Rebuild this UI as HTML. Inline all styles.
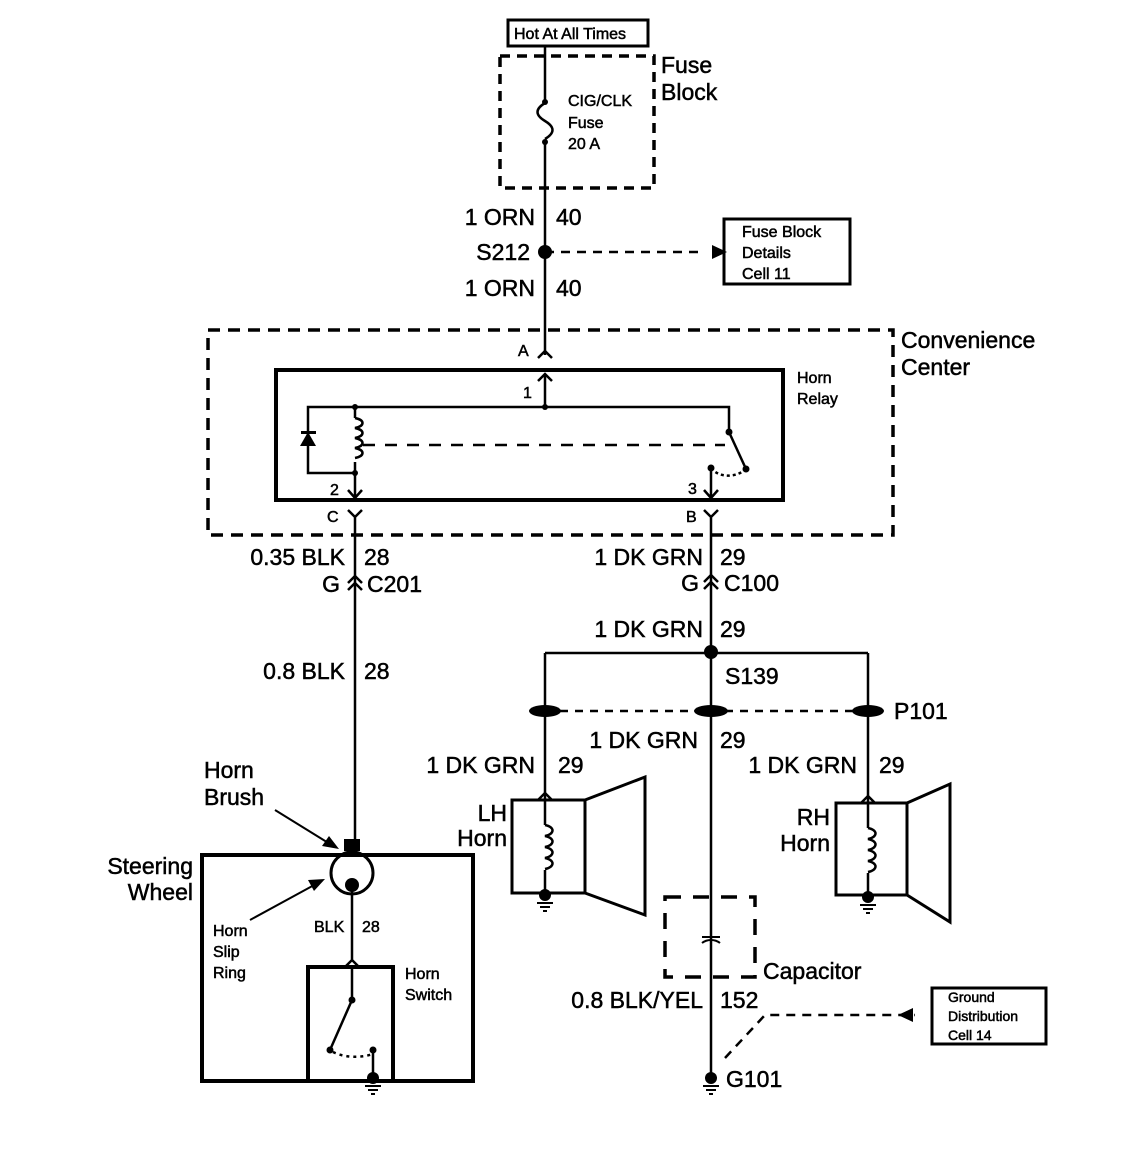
<!DOCTYPE html>
<html><head><meta charset="utf-8"><style>
html,body{margin:0;padding:0;background:#fff}
svg{display:block}
text{font-family:"Liberation Sans",sans-serif;fill:#000;stroke:#000;stroke-width:0.5}
.l{font-size:23px}
.m{font-size:16px}
.s{font-size:14px}
</style></head><body>
<svg width="1136" height="1170" viewBox="0 0 1136 1170" xmlns="http://www.w3.org/2000/svg">
<g fill="none" stroke="#000" stroke-width="2.5">
<rect x="508" y="20" width="140" height="26" stroke-width="3"/>
<rect x="500" y="56" width="154" height="132" stroke-dasharray="10 7" stroke-width="3.5"/>
<path d="M545 46V100M545 144V355"/>
<path d="M545 103c-10 6-10 12 0 18c10 6 10 12 0 18"/>
<path d="M545 252H700" stroke-dasharray="9 7"/>
<rect x="724" y="219" width="126" height="65" stroke-width="3"/>
<rect x="208" y="330" width="685" height="205" stroke-dasharray="12 8" stroke-width="3.5"/>
<path d="M538 358l7-7 7 7"/>
<rect x="276" y="370" width="507" height="130" stroke-width="4"/>
<path d="M545 407V374M538 381l7-7 7 7"/>
<path d="M355 407H308V473H355M355 407H729V432M355 407V418M355 462V473"/>
<path d="M355 418c10 2 10 8 0 10c10 2 10 8 0 10c10 2 10 8 0 10c10 2 10 8 0 10"/>
<path d="M363 445H725" stroke-dasharray="12 10"/>
<path d="M729 432L746 469"/>
<path d="M711 468c8 10 25 10 35 1" stroke-dasharray="3 3"/>
<path d="M355 473V498M348 490l7 8 7-8M711 468V498M704 490l7 8 7-8"/>
<path d="M348 510l7 7 7-7M355 517V840M704 510l7 7 7-7M711 517V1076"/>
<path d="M348 583l7-7 7 7M348 590l7-7 7 7M704 582l7-7 7 7M704 589l7-7 7 7"/>
<path d="M545 653H868M545 653V800M868 653V803"/>
<path d="M545 711H868" stroke-dasharray="8 7"/>
<rect x="512" y="800" width="73" height="93" stroke-width="3"/>
<path d="M585 800L645 777V915L585 893" stroke-width="3"/>
<path d="M538 800l7-7 7 7M545 800V825M545 870V895"/>
<path d="M545 825c10 2 10 9 0 11c10 2 10 9 0 11c10 2 10 9 0 11c10 2 10 9 0 11"/>
<rect x="836" y="803" width="71" height="92" stroke-width="3"/>
<path d="M907 803L950 784V922L907 895" stroke-width="3"/>
<path d="M861 803l7-7 7 7M868 803V828M868 873V897"/>
<path d="M868 828c10 2 10 9 0 11c10 2 10 9 0 11c10 2 10 9 0 11c10 2 10 9 0 11"/>
<rect x="665" y="897" width="90" height="80" stroke-dasharray="16 12" stroke-width="3.5"/>
<path d="M702 937H720M702 943c5-4 13-4 18 0" stroke-width="2"/>
<path d="M725 1058L765 1015H915" stroke-dasharray="9 7"/>
<rect x="932" y="988" width="114" height="56" stroke-width="3"/>
<rect x="202" y="855" width="271" height="226" stroke-width="4"/>
<circle cx="352" cy="873" r="21" stroke-width="3"/>
<path d="M352 885V960M345 967l7-7 7 7"/>
<rect x="308" y="967" width="85" height="114" stroke-width="4"/>
<path d="M352 968V1000L330 1050M373 1050V1078"/>
<path d="M333 1052c12 6 28 6 40 2" stroke-dasharray="3 4"/>
<path d="M275 810L330 844M250 920L316 884" stroke-width="2"/>
</g>
<g fill="#000">
<path d="M339 849L322 846L329 836Z"/>
<path d="M325 879L314 891L308 880Z"/>
<circle cx="545" cy="102" r="3"/><circle cx="545" cy="142" r="3"/>
<circle cx="545" cy="252" r="7"/>
<path d="M712 245L712 259L727 252Z"/>
<circle cx="355" cy="407" r="3"/><circle cx="545" cy="407" r="3"/><circle cx="355" cy="473" r="3"/>
<circle cx="729" cy="432" r="3.5"/><circle cx="746" cy="469" r="3.5"/><circle cx="711" cy="468" r="3.5"/>
<path d="M308 432L300 446H316Z"/>
<rect x="301" y="431" width="15" height="3"/>
<circle cx="711" cy="652" r="7"/>
<ellipse cx="545" cy="711" rx="16" ry="6"/><ellipse cx="711" cy="711" rx="17" ry="6"/><ellipse cx="868" cy="711" rx="16" ry="6"/>
<path d="M913 1008L913 1022L898 1015Z"/>
<rect x="344" y="839" width="16" height="12"/>
<circle cx="352" cy="885" r="7"/>
<circle cx="352" cy="1000" r="3.5"/><circle cx="330" cy="1050" r="3.5"/><circle cx="373" cy="1050" r="3.5"/>
<circle cx="545" cy="895" r="6"/><circle cx="868" cy="897" r="6"/><circle cx="711" cy="1078" r="6"/><circle cx="373" cy="1078" r="6"/>
</g>
<g stroke="#000" stroke-width="2">
<path d="M537 903H553M540 907H550M543 911H547M860 905H876M863 909H873M866 913H870M703 1086H719M706 1090H716M709 1094H713M365 1086H381M368 1090H378M371 1094H375"/>
</g>
<text class="m" x="514" y="39">Hot At All Times</text>
<text class="l" x="661" y="73">Fuse</text><text class="l" x="661" y="100">Block</text>
<text class="m" x="568" y="106">CIG/CLK</text><text class="m" x="568" y="128">Fuse</text><text class="m" x="568" y="149">20 A</text>
<text class="l" x="535" y="225" text-anchor="end">1 ORN</text><text class="l" x="556" y="225">40</text>
<text class="l" x="530" y="260" text-anchor="end">S212</text>
<text class="l" x="535" y="296" text-anchor="end">1 ORN</text><text class="l" x="556" y="296">40</text>
<text class="m" x="742" y="237">Fuse Block</text><text class="m" x="742" y="258">Details</text><text class="m" x="742" y="279">Cell 11</text>
<text class="l" x="901" y="348">Convenience</text><text class="l" x="901" y="375">Center</text>
<text class="m" x="518" y="356">A</text>
<text class="m" x="797" y="383">Horn</text><text class="m" x="797" y="404">Relay</text>
<text class="m" x="523" y="398">1</text><text class="m" x="330" y="495">2</text><text class="m" x="688" y="494">3</text>
<text class="m" x="327" y="522">C</text><text class="m" x="686" y="522">B</text>
<text class="l" x="345" y="565" text-anchor="end">0.35 BLK</text><text class="l" x="364" y="565">28</text>
<text class="l" x="340" y="592" text-anchor="end">G</text><text class="l" x="367" y="592">C201</text>
<text class="l" x="345" y="679" text-anchor="end">0.8 BLK</text><text class="l" x="364" y="679">28</text>
<text class="l" x="703" y="565" text-anchor="end">1 DK GRN</text><text class="l" x="720" y="565">29</text>
<text class="l" x="699" y="591" text-anchor="end">G</text><text class="l" x="724" y="591">C100</text>
<text class="l" x="703" y="637" text-anchor="end">1 DK GRN</text><text class="l" x="720" y="637">29</text>
<text class="l" x="725" y="684">S139</text>
<text class="l" x="894" y="719">P101</text>
<text class="l" x="698" y="748" text-anchor="end">1 DK GRN</text><text class="l" x="720" y="748">29</text>
<text class="l" x="535" y="773" text-anchor="end">1 DK GRN</text><text class="l" x="558" y="773">29</text>
<text class="l" x="857" y="773" text-anchor="end">1 DK GRN</text><text class="l" x="879" y="773">29</text>
<text class="l" x="507" y="821" text-anchor="end">LH</text><text class="l" x="507" y="846" text-anchor="end">Horn</text>
<text class="l" x="830" y="825" text-anchor="end">RH</text><text class="l" x="830" y="851" text-anchor="end">Horn</text>
<text class="l" x="763" y="979">Capacitor</text>
<text class="l" x="703" y="1008" text-anchor="end">0.8 BLK/YEL</text><text class="l" x="720" y="1008">152</text>
<text class="l" x="726" y="1087">G101</text>
<text class="s" x="948" y="1002">Ground</text><text class="s" x="948" y="1021">Distribution</text><text class="s" x="948" y="1040">Cell 14</text>
<text class="l" x="204" y="778">Horn</text><text class="l" x="204" y="805">Brush</text>
<text class="l" x="193" y="874" text-anchor="end">Steering</text><text class="l" x="193" y="900" text-anchor="end">Wheel</text>
<text class="m" x="213" y="936">Horn</text><text class="m" x="213" y="957">Slip</text><text class="m" x="213" y="978">Ring</text>
<text class="m" x="314" y="932">BLK</text><text class="m" x="362" y="932">28</text>
<text class="m" x="405" y="979">Horn</text><text class="m" x="405" y="1000">Switch</text>
</svg>
</body></html>
